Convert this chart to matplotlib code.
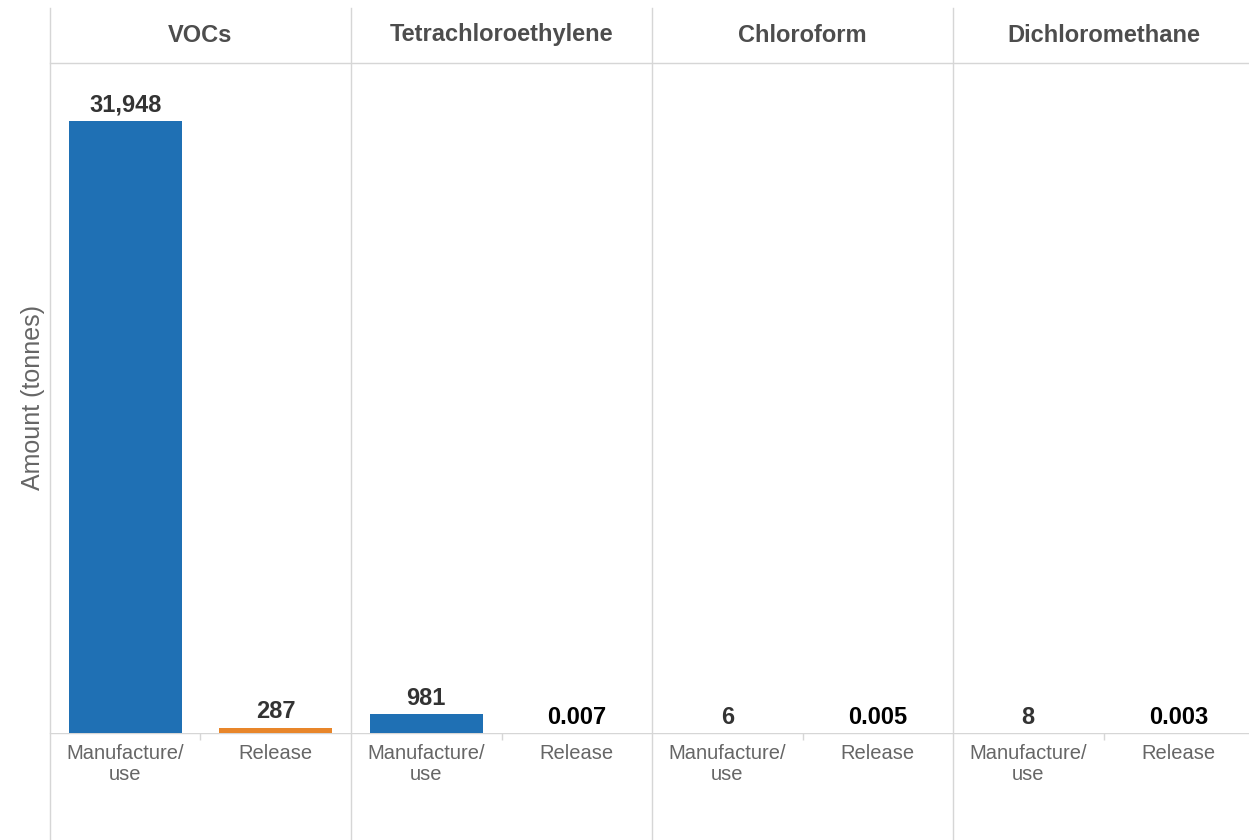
import matplotlib
matplotlib.use("Agg")
import matplotlib.pyplot as plt
from matplotlib.lines import Line2D

plt.rcParams['font.family'] = ['Liberation Sans', 'DejaVu Sans']

# 数据
panels = ["VOCs", "Tetrachloroethylene", "Chloroform", "Dichloromethane"]
categories = ["Manufacture/\nuse", "Release"]
manufacture = [31948, 981, 6, 8]
release = [287, 0.007, 0.005, 0.003]

W, H = 1249, 840
left_px, panel_px = 50, 301
base_px, head_px, top_px = 733, 63, 8
grid_col = "#d6d6d6"
bar_cols = ["#1f70b4", "#e8862a"]

y_top = max(manufacture) * (base_px - head_px) / 612.0


def fmt(v):
    if v >= 1:
        return f"{v:,.0f}"
    return f"{v:.3f}"


fig = plt.figure(figsize=(W / 100, H / 100), dpi=100)

for i, name in enumerate(panels):
    x0 = left_px + panel_px * i
    ax = fig.add_axes([x0 / W, (H - base_px) / H, panel_px / W, (base_px - head_px) / H])
    vals = [manufacture[i], release[i]]
    ax.bar([0, 1], vals, width=0.75, color=bar_cols)
    ax.set_xlim(-0.5, 1.5)
    ax.set_ylim(0, y_top)
    for s in ax.spines.values():
        s.set_visible(False)
    ax.set_yticks([])
    ax.set_xticks([0, 1])
    ax.set_xticklabels(categories, fontsize=14.5, color="#666666", linespacing=1.15)
    ax.tick_params(axis='x', which='major', length=0, pad=8)
    ax.set_xticks([0.5], minor=True)
    ax.tick_params(axis='x', which='minor', length=5, color=grid_col, width=1)
    for xi, v in enumerate(vals):
        small = v < 1
        ax.annotate(fmt(v), (xi, v), xytext=(0, 3), textcoords="offset points",
                    ha="center", va="bottom", fontsize=17, fontweight="bold",
                    color="black" if small else "#333333")
    fig.text((x0 + panel_px / 2) / W, (H - 35) / H, name, ha="center", va="center",
             fontsize=17, fontweight="bold", color="#4d4d4d")

# 分隔线和基线
for i in range(4):
    x = (left_px + panel_px * i) / W
    fig.add_artist(Line2D([x, x], [0, (H - top_px) / H], color=grid_col, lw=1))
fig.add_artist(Line2D([left_px / W, 1], [(H - head_px) / H] * 2, color=grid_col, lw=1))
fig.add_artist(Line2D([left_px / W, 1], [(H - base_px) / H] * 2, color=grid_col, lw=1, zorder=0))

fig.text(33 / W, (H - 398) / H, "Amount (tonnes)", rotation=90, ha="center", va="center",
         fontsize=18, color="#666666")

fig.savefig("out.png", dpi=100)
